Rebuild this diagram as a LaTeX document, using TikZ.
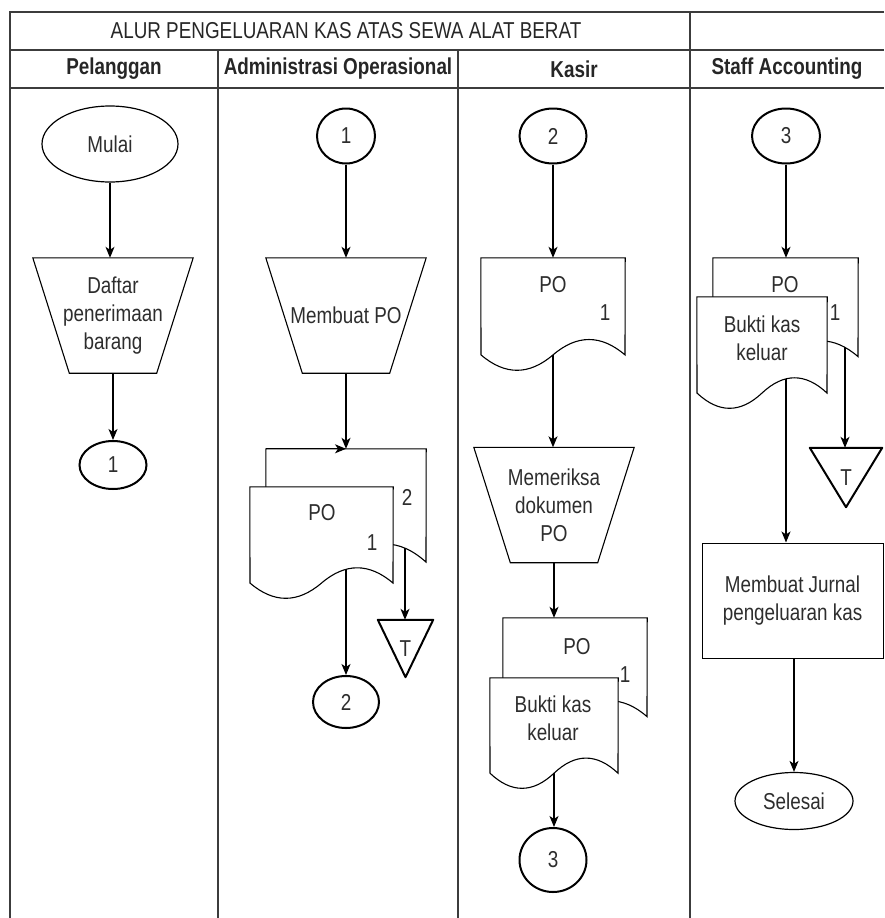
\documentclass[tikz,border=0pt]{standalone}
\usepackage{fontspec}
\setmainfont{Liberation Sans}[FakeStretch=0.82]
\usetikzlibrary{calc}
\usetikzlibrary{positioning}
\usetikzlibrary{shapes.geometric}
\usetikzlibrary{arrows.meta}

\definecolor{framegray}{RGB}{60,60,60}
\definecolor{textgray}{RGB}{45,45,45}

% document symbol: name, x, y (top left), width, height
\newcommand{\docsym}[5]{%
  \node[docbox, minimum width=#4pt, minimum height=#5pt] (#1) at ({#2+#4/2},{#3+#5/2}) {};
  \draw[docline] (#1.north west) -- (#1.north east) -- ({#2+#4},{#3+0.85*#5})
    .. controls ({#2+5*#4/6},{#3+0.67*#5}) and ({#2+2*#4/3},{#3+0.67*#5}) .. ({#2+#4/2},{#3+0.85*#5})
    .. controls ({#2+#4/3},{#3+1.03*#5}) and ({#2+#4/6},{#3+1.03*#5}) .. (#2,{#3+0.85*#5}) -- cycle;
  \coordinate (#1-w) at ({#2+#4/2},{#3+0.85*#5});
}

% manual operation: name, x, y (centre), text
\newcommand{\manop}[4]{%
  \node[opbox] (#1) at (#2,#3) {#4};
  \draw[symline] (#1.north west) -- (#1.north east) -- ($(#1.south east)+(-36.5,0)$) -- ($(#1.south west)+(36.5,0)$) -- cycle;
}

\begin{document}
\begin{tikzpicture}[x=1pt,y=-1pt,
  txt/.style={font=\fontsize{23}{28}\selectfont, text=textgray, align=center},
  symline/.style={draw=black, line width=1.1pt},
  docline/.style={symline, fill=white},
  docbox/.style={inner sep=0pt, draw=none},
  opbox/.style={txt, inner sep=0pt, minimum width=160pt, minimum height=115pt},
  conn/.style={txt, ellipse, draw=black, line width=2pt, inner sep=0pt},
  term/.style={txt, ellipse, draw=black, line width=1.2pt, inner sep=0pt},
  tribox/.style={txt, inner sep=0pt},
  trine/.style={draw=black, line width=2pt, line join=round},
  flow/.style={draw=black, line width=1.2pt, -{Stealth[length=11pt,width=9pt,inset=3pt]}},
  lane/.style={draw=framegray, line width=2pt},
  head/.style={font=\fontsize{23}{28}\selectfont\bfseries, text=black!85}
]
	\useasboundingbox (0,0) rectangle (884,918);

	%Frame
	\draw[lane] (884,12) -- (10,12) -- (10,918);
	\draw[lane] (10,50) -- (884,50);
	\draw[lane] (10,88) -- (884,88);
	\draw[lane] (690,12) -- (690,918);
	\draw[lane] (218,50) -- (218,918);
	\draw[lane] (458,50) -- (458,918);

	%Title and lanes
	\node[head, font=\fontsize{23}{28}\selectfont] (title) at (346,31) {ALUR PENGELUARAN KAS ATAS SEWA ALAT BERAT};
	\node[head] (hPel) at (114,69) {Pelanggan};
	\node[head] (hAdm) at (338,69) {Administrasi Operasional};
	\node[head] (hKas) at (574,69) {Kasir};
	\node[head] (hAcc) at (787,69) {Staff Accounting};

	%Pelanggan
	\node[term, minimum width=136pt, minimum height=76pt] (mulai) at (110,144) {Mulai};
	\manop{daftar}{113}{315.5}{Daftar\\penerimaan\\barang}
	\node[conn, minimum width=67pt, minimum height=48pt] (conA1) at (113,465) {1};
	\draw[flow] (mulai.south) -- (mulai.south |- daftar.north);
	\draw[flow] (daftar.south) -- (conA1.north);

	%Administrasi Operasional
	\node[conn, minimum width=58pt, minimum height=55pt] (conB1) at (346,136) {1};
	\manop{buatpo}{346}{315.5}{Membuat PO}
	\docsym{poB2}{266}{449}{160}{133}
	\docsym{poB1}{250}{487}{143}{113}
	\node[txt] (poB1a) at (322,513) {PO};
	\node[txt] (poB1b) at (372,543) {1};
	\node[txt] (poB2b) at (407,497) {2};
	\coordinate (poB1out) at (346,569);
	\coordinate (poB2out) at (405,548);
	\node[tribox, minimum width=55pt, minimum height=57pt] (arsipB) at (405.5,648.5) {T};
	\draw[trine] (arsipB.north west) -- (arsipB.north east) -- (arsipB.south) -- cycle;
	\node[conn, minimum width=66pt, minimum height=52pt] (conB2) at (346,702) {2};
	\draw[flow] (conB1.south) -- (buatpo.north);
	\draw[flow] (buatpo.south) -- (poB2.north);
	\draw[flow] (poB2.north west) -- (poB2.north);
	\draw[flow] (poB1out) -- (conB2.north);
	\draw[flow] (poB2out) -- (poB2out |- arsipB.north);

	%Kasir
	\node[conn, minimum width=67pt, minimum height=55pt] (conC2) at (553,136) {2};
	\docsym{poC}{481}{258}{144}{114}
	\node[txt] (poCa) at (553,285) {PO};
	\node[txt] (poCb) at (605,313) {1};
	\manop{periksa}{554}{505}{Memeriksa\\dokumen\\PO}
	\docsym{poC2}{503}{618}{144}{116}
	\node[txt] (poC2a) at (577,647) {PO};
	\node[txt] (poC2b) at (625,675) {1};
	\docsym{bkC}{490}{678}{128}{112}
	\node[txt] (bkCa) at (553,718) {Bukti kas\\keluar};
	\node[conn, minimum width=67pt, minimum height=64pt] (conC3) at (553,860) {3};
	\draw[flow] (conC2.south) -- (conC2.south |- poC.north);
	\draw[flow] (poC-w) -- (poC-w |- periksa.north);
	\draw[flow] (periksa.south) -- (periksa.south |- poC2.north);
	\draw[flow] (bkC-w) -- (bkC-w |- conC3.north);

	%Staff Accounting
	\node[conn, minimum width=68pt, minimum height=55pt] (conD3) at (786,136) {3};
	\docsym{poD}{713}{258}{145}{116}
	\node[txt] (poDa) at (785,285) {PO};
	\docsym{bkD}{697}{297}{130}{113}
	\node[txt] (poDb) at (835,313) {1};
	\node[txt] (bkDa) at (762,338) {Bukti kas\\keluar};
	\coordinate (poDout) at (845,347);
	\coordinate (bkDout) at (786,379);
	\node[tribox, minimum width=72pt, minimum height=59pt] (arsipD) at (846,477.5) {T};
	\draw[trine] (arsipD.north west) -- (arsipD.north east) -- (arsipD.south) -- cycle;
	\node[txt, draw=black, line width=1pt, minimum width=181pt, minimum height=115pt, inner sep=0pt] (jurnal) at (792.5,600.5) {Membuat Jurnal\\pengeluaran kas};
	\node[term, minimum width=118pt, minimum height=57pt] (selesai) at (794,801) {Selesai};
	\draw[flow] (conD3.south) -- (conD3.south |- poD.north);
	\draw[flow] (poDout) -- (poDout |- arsipD.north);
	\draw[flow] (bkDout) -- (bkDout |- jurnal.north);
	\draw[flow] (selesai.north |- jurnal.south) -- (selesai.north);

\end{tikzpicture}
\end{document}
